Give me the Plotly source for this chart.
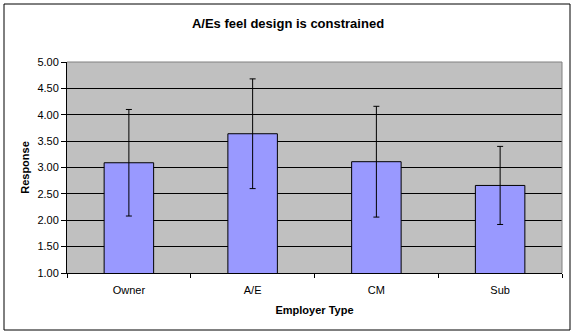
import plotly.graph_objects as go

# Survey responses by employer type
categories = ["Owner", "A/E", "CM", "Sub"]
mean_response = [3.09, 3.64, 3.11, 2.66]
std_dev = [1.01, 1.04, 1.05, 0.74]
y_tick_values = [1.0, 1.5, 2.0, 2.5, 3.0, 3.5, 4.0, 4.5, 5.0]
y_tick_labels = ["1.00", "1.50", "2.00", "2.50", "3.00", "3.50", "4.00", "4.50", "5.00"]

W, H = 576, 335
ML, MR, MT, MB = 67, 14, 62, 62
plot_w = W - ML - MR
plot_h = H - MT - MB


def px_to_paper_x(px):
    return (px - ML) / plot_w


def px_to_paper_y(py):
    return (H - MB - py) / plot_h


FONT = "Liberation Sans, Arial, sans-serif"

fig = go.Figure(
    go.Bar(
        x=categories,
        y=mean_response,
        width=0.4,
        marker=dict(color="#9999FF", line=dict(color="black", width=1)),
        error_y=dict(type="data", array=std_dev, visible=True,
                     color="black", thickness=1, width=3),
    )
)

fig.update_layout(
    width=W,
    height=H,
    margin=dict(l=ML, r=MR, t=MT, b=MB),
    paper_bgcolor="white",
    plot_bgcolor="#C0C0C0",
    showlegend=False,
    font=dict(family=FONT, size=11, color="black"),
    title=dict(
        text="<b>A/Es feel design is constrained</b>",
        x=0.5, xanchor="center",
        y=1 - 23 / H, yanchor="middle",
        font=dict(family=FONT, size=13, color="black"),
    ),
    bargap=0.6,
)

fig.update_xaxes(
    type="category",
    range=[-0.5, 3.5],
    showline=True, linecolor="black", linewidth=1,
    ticks="outside", ticklen=4, tickcolor="black", tickson="boundaries",
    ticklabelstandoff=7,
    showgrid=False,
    tickfont=dict(family=FONT, size=11),
    title=dict(text="<b>Employer Type</b>", font=dict(family=FONT, size=11), standoff=11),
)

fig.update_yaxes(
    range=[1, 5],
    tickvals=y_tick_values,
    ticktext=y_tick_labels,
    showline=True, linecolor="black", linewidth=1,
    ticks="outside", ticklen=5, tickcolor="black",
    showgrid=True, gridcolor="black", gridwidth=1,
    zeroline=False,
    tickfont=dict(family=FONT, size=11),
    title=dict(text="<b>Response</b>", font=dict(family=FONT, size=11), standoff=5),
)

# Grey edge along the top and right of the plot area
fig.add_shape(
    type="path",
    xref="paper", yref="paper",
    path="M 0 1 L 1 1 L 1 0",
    line=dict(color="#808080", width=1),
    layer="above",
)

# Outer chart border
fig.add_shape(
    type="rect",
    xref="paper", yref="paper",
    x0=px_to_paper_x(4), x1=px_to_paper_x(570),
    y0=px_to_paper_y(330), y1=px_to_paper_y(4),
    line=dict(color="black", width=1),
    fillcolor="rgba(0,0,0,0)",
    layer="above",
)

fig.write_html("out.html")
